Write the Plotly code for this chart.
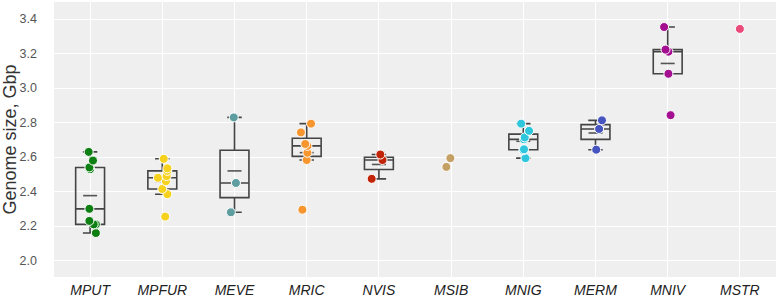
import numpy as np
import plotly.graph_objects as go

categories = ["MPUT", "MPFUR", "MEVE", "MRIC", "NVIS", "MSIB", "MNIG", "MERM", "MNIV", "MSTR"]

values = {
    "MPUT": [2.16, 2.21, 2.21, 2.23, 2.30, 2.53, 2.54, 2.58, 2.63],
    "MPFUR": [2.255, 2.385, 2.415, 2.46, 2.48, 2.49, 2.52, 2.535, 2.59],
    "MEVE": [2.28, 2.45, 2.83],
    "MRIC": [2.295, 2.583, 2.625, 2.665, 2.676, 2.743, 2.794],
    "NVIS": [2.474, 2.583, 2.615],
    "MSIB": [2.543, 2.594],
    "MNIG": [2.594, 2.640, 2.645, 2.703, 2.714, 2.752, 2.794],
    "MERM": [2.643, 2.763, 2.813],
    "MNIV": [2.843, 3.083, 3.211, 3.223, 3.354],
    "MSTR": [3.343],
}

# horizontal jitter of the points (fraction of category width)
jitter = {
    "MPUT": [0.08, 0.08, 0.05, -0.01, -0.01, 0.0, -0.01, 0.04, -0.02],
    "MPFUR": [0.04, 0.07, 0.0, 0.05, -0.06, 0.06, 0.07, 0.07, 0.02],
    "MEVE": [-0.05, 0.02, -0.01],
    "MRIC": [-0.06, 0.0, 0.01, 0.01, -0.02, -0.08, 0.06],
    "NVIS": [-0.10, 0.05, 0.02],
    "MSIB": [-0.065, -0.01],
    "MNIG": [0.03, 0.0, 0.01, 0.01, 0.02, 0.08, -0.03],
    "MERM": [0.01, 0.05, 0.09],
    "MNIV": [0.04, 0.01, 0.01, -0.03, -0.05],
    "MSTR": [0.0],
}

colors = {
    "MPUT": "#0e7f12",
    "MPFUR": "#f6d21e",
    "MEVE": "#5e9ea0",
    "MRIC": "#f7962e",
    "NVIS": "#c22408",
    "MSIB": "#c4a064",
    "MNIG": "#2ec6dc",
    "MERM": "#4654c0",
    "MNIV": "#a30f90",
    "MSTR": "#e94b7b",
}

yticks = [2.0, 2.2, 2.4, 2.6, 2.8, 3.0, 3.2, 3.4]

fig = go.Figure()

box_line = "#444444"

for i, cat in enumerate(categories):
    vals = np.array(values[cat])
    if len(vals) >= 3:
        q1, med, q3 = np.percentile(vals, [25, 50, 75])
        iqr = q3 - q1
        lo = vals[vals >= q1 - 1.5 * iqr].min()
        hi = vals[vals <= q3 + 1.5 * iqr].max()
        fig.add_trace(go.Box(
            x=[i], q1=[q1], median=[med], q3=[q3], lowerfence=[lo], upperfence=[hi],
            boxpoints=False, width=0.4,
            whiskerwidth=0.5, fillcolor="rgba(0,0,0,0)",
            line=dict(color=box_line, width=1.6),
            showlegend=False, hoverinfo="skip",
        ))
        fig.add_trace(go.Scatter(
            x=[i], y=[float(vals.mean())], mode="markers",
            marker=dict(symbol="line-ew", size=10, line=dict(color="#555555", width=1.6)),
            showlegend=False, hoverinfo="skip",
        ))

for i, cat in enumerate(categories):
    vals = values[cat]
    xs = [i + j for j in jitter[cat]]
    fig.add_trace(go.Scatter(
        x=xs, y=vals, mode="markers",
        marker=dict(size=9, color=colors[cat], line=dict(color="white", width=1)),
        showlegend=False, name=cat,
    ))

fig.update_layout(
    width=777, height=299,
    margin=dict(l=54, r=1, t=2, b=18),
    paper_bgcolor="white",
    plot_bgcolor="#efefef",
    font=dict(family="Liberation Sans, Arial, sans-serif"),
    showlegend=False,
)

fig.update_xaxes(
    type="linear", range=[-0.5, 9.5],
    tickvals=list(range(len(categories))),
    ticktext=[f"<i>{c}</i>" for c in categories],
    tickfont=dict(size=14, color="#222222"),
    showgrid=True, gridcolor="white", gridwidth=1,
    zeroline=False, ticks="", ticklabelstandoff=3,
)

fig.update_yaxes(
    range=[1.905, 3.499],
    tickvals=yticks,
    ticktext=[f"{v:.1f}" for v in yticks],
    tickfont=dict(size=12.5, color="#555555"),
    showgrid=True, gridcolor="white", gridwidth=1,
    zeroline=False, ticks="", ticklabelstandoff=16,
    title=dict(text="Genome size, Gbp", font=dict(size=18, color="#333333"), standoff=4),
)

fig.write_html("out.html")
